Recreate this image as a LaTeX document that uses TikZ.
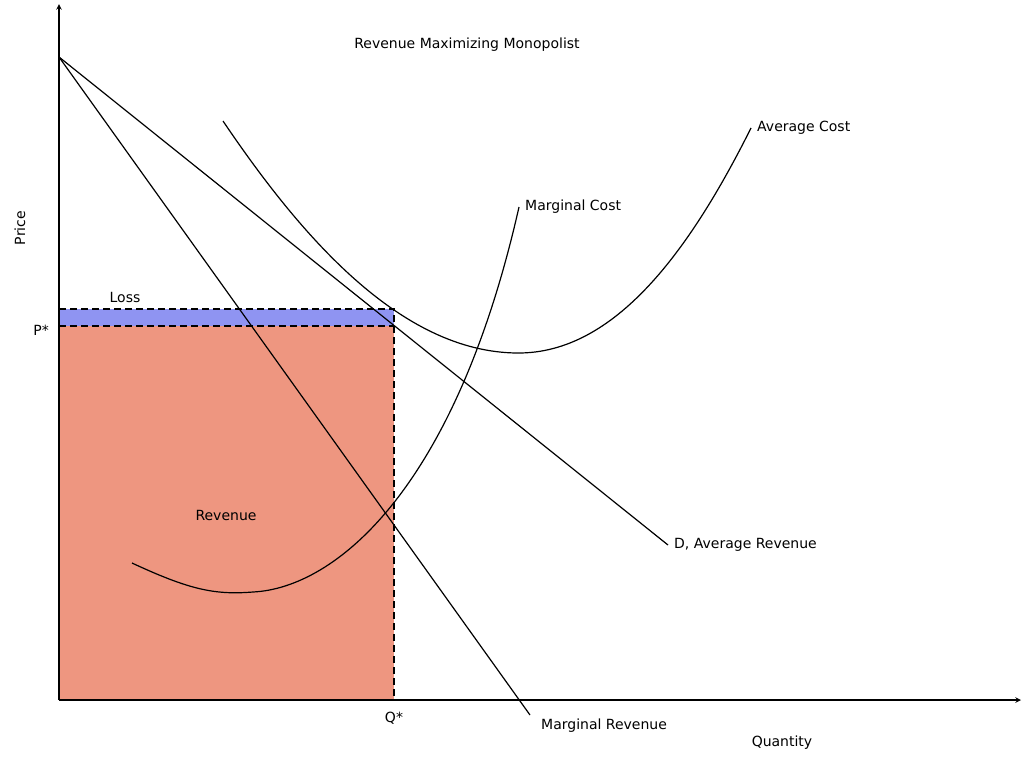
\documentclass[tikz,border=0pt]{standalone}
\usepackage{fontspec}
\setmainfont{DejaVu Sans}
\usetikzlibrary{positioning,arrows}
\definecolor{revfill}{HTML}{EE9680}
\definecolor{lossfill}{HTML}{8F94F2}
\tikzstyle{lbl}=[font=\fontsize{14}{16}\selectfont, inner sep=1pt]
\tikzstyle{curve}=[draw, line width=1.2pt]
\tikzstyle{guide}=[draw, dashed, dash pattern=on 7pt off 4pt, line width=1.1pt]
\begin{document}
\begin{tikzpicture}[x=1pt,y=-1pt]
	\useasboundingbox (0,0) rectangle (1024,761);
	% points
	\coordinate (o) at (59,700);
	\coordinate (ytop) at (59,4);
	\coordinate (xend) at (1021,700);
	\coordinate (top) at (59,57);
	\coordinate (dend) at (668,545);
	\coordinate (mrend) at (530,715);
	\coordinate (pl) at (59,309);
	\coordinate (pr) at (394,309);
	\coordinate (ql) at (59,326);
	\coordinate (qr) at (394,326);
	\coordinate (qb) at (394,700);
	% areas
	\fill[revfill] (ql) rectangle (qb);
	\fill[lossfill] (pl) rectangle (qr);
	\path[guide] (pl) -- (pr) -- (qb);
	\path[guide] (ql) -- (qr);
	% axes
	\draw[line width=1.5pt, ->, >=stealth] (o) -- (ytop);
	\draw[line width=1.5pt, ->, >=stealth] (o) -- (xend);
	% demand and marginal revenue
	\path[curve] (top) -- (dend);
	\path[curve] (top) -- (mrend);
	% marginal cost
	\path[curve] (132,563) .. controls (190,590) and (215,595) .. (253,592)
		.. controls (335,588) and (455,490) .. (519,207) coordinate (mcend);
	% average cost
	\path[curve] (223,121) .. controls (300,235) and (400,352) .. (517,353)
		.. controls (615,354) and (690,250) .. (751,128) coordinate (acend);
	% labels
	\node[lbl] (title) at (467,45) {Revenue Maximizing Monopolist};
	\node[lbl, rotate=90] (price) at (20,228) {Price};
	\node[lbl] (quantity) at (782,743) {Quantity};
	\node[lbl, left] (pstar) at (50,330) {P*};
	\node[lbl] (qstar) at (394,718) {Q*};
	\node[lbl] (loss) at (125,297) {Loss};
	\node[lbl] (revenue) at (226,515) {Revenue};
	\node[lbl, right=5pt of dend] (dlbl) {D, Average Revenue};
	\node[lbl, right=10pt of mrend, yshift=-11pt] (mrlbl) {Marginal Revenue};
	\node[lbl, right=5pt of mcend] (mclbl) {Marginal Cost};
	\node[lbl, right=5pt of acend] (aclbl) {Average Cost};
\end{tikzpicture}
\end{document}
